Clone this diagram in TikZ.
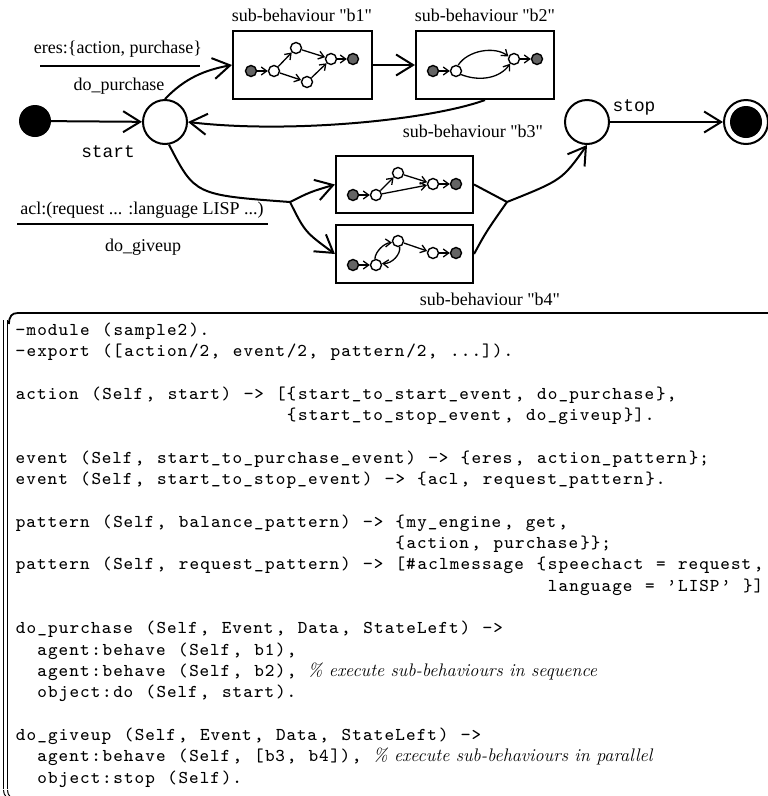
\documentclass[tikz,border=0pt]{standalone}
\usepackage{fontspec}
\usepackage{listings}
\usetikzlibrary{arrows.meta}
\newfontfamily\timesf{Liberation Serif}
\newfontfamily\courf{Liberation Mono}
\newfontfamily\codefont{lmmono8-regular.otf}
\definecolor{mgray}{RGB}{100,100,100}
\newsavebox\codebox
\newcommand\cmtx[1]{{\fontsize{18.2}{21.33}\selectfont\rmfamily\itshape #1}}
\lstset{basicstyle=\fontsize{18.1}{21.33}\selectfont\codefont,
  columns=fixed, basewidth=10.86pt, escapechar=`,
  literate={'}{{\textquoteright}}1,
  aboveskip=0pt, belowskip=0pt, xleftmargin=0pt, showstringspaces=false}
\begin{document}
\global\setbox\codebox\vbox{\hsize=760pt\linewidth=760pt\parindent=0pt
\begin{lstlisting}
-module (sample2).
-export ([action/2, event/2, pattern/2, ...]).

action (Self, start) -> [{start_to_start_event, do_purchase},
                         {start_to_stop_event, do_giveup}].

event (Self, start_to_purchase_event) -> {eres, action_pattern};
event (Self, start_to_stop_event) -> {acl, request_pattern}.

pattern (Self, balance_pattern) -> {my_engine, get,
                                   {action, purchase}};
pattern (Self, request_pattern) -> [#aclmessage {speechact = request,
                                                 language = 'LISP' }]

do_purchase (Self, Event, Data, StateLeft) ->
  agent:behave (Self, b1),
  agent:behave (Self, b2), `\cmtx{\% execute sub-behaviours in sequence}`
  object:do (Self, start).

do_giveup (Self, Event, Data, StateLeft) ->
  agent:behave (Self, [b3, b4]), `\cmtx{\% execute sub-behaviours in parallel}`
  object:stop (Self).
\end{lstlisting}
}%
\begin{tikzpicture}[x=1pt,y=-1pt,
  arrw/.style={line width=2pt, -{Straight Barb[length=17pt,width=21pt]}},
  plainl/.style={line width=2pt},
  stc/.style={circle, draw, line width=2pt, minimum size=44pt, inner sep=0pt},
  bxs/.style={draw, line width=2.1pt, inner sep=0pt},
  mwhite/.style={circle, draw, line width=1.4pt, fill=white, minimum size=11pt, inner sep=0pt},
  mgrey/.style={mwhite, fill=mgray},
  marr/.style={line width=1.3pt, -{Straight Barb[length=5.5pt,width=8pt]}},
  tlab/.style={font=\timesf\fontsize{18}{21}\selectfont, inner sep=0pt},
  tmono/.style={font=\courf\fontsize{17.8}{21}\selectfont, inner sep=0pt},
  sepbar/.style={line width=1.7pt}]
\useasboundingbox (0,0) rectangle (768,796);
% states
\node[circle, fill=black, minimum size=32pt, inner sep=0pt] (init) at (35,121) {};
\node[stc] (start) at (165,122) {};
\node[stc] (stop) at (587,122) {};
\node[stc] (final) at (746,122) {};
\node[circle, fill=black, minimum size=32pt, inner sep=0pt] (finalin) at (746,122) {};
% boxes
\node[bxs, minimum width=139pt, minimum height=68pt] (b1) at (302.5,65) {};
\node[bxs, minimum width=138pt, minimum height=68pt] (b2) at (485,65) {};
\node[bxs, minimum width=137pt, minimum height=57pt] (b3) at (404.5,184.5) {};
\node[bxs, minimum width=137pt, minimum height=58pt] (b4) at (404.5,254) {};
% box labels
\node[tlab] (lb1) at (302,15) {sub-behaviour "b1"};
\node[tlab] (lb2) at (485,15) {sub-behaviour "b2"};
\node[tlab] (lb3) at (473,131) {sub-behaviour "b3"};
\node[tlab] (lb4) at (490,299) {sub-behaviour "b4"};
% transition labels
\node[tlab] (ev1) at (118,49) {eres:\{action, purchase\}};
\node[tlab] (ac1) at (119,86) {do\_purchase};
\draw[sepbar] (40,66) -- (200,66);
\node[tlab] (ev2) at (142,210) {acl:(request ... :language LISP ...)};
\node[tlab] (ac2) at (143,247) {do\_giveup};
\draw[sepbar] (17,224) -- (268,224);
\node[tmono] (lstart) at (108,152) {start};
\node[tmono] (lstop) at (634,107) {stop};
% coordinates
\coordinate (fork) at (290,202);
\coordinate (join) at (507,202);
% main transitions
\draw[arrw] (init) -- (start);
\draw[arrw] (start.north) .. controls (185,78) and (205,70) .. (b1.west);
\draw[arrw] (b1.east) -- (b2.west);
\draw[arrw] (b2.south) .. controls (430,120) and (290,134) .. (start.east);
\draw[plainl] (start.-80) .. controls (195,195) .. (fork);
\draw[arrw] (fork) .. controls (310,192) .. (b3.west);
\draw[arrw] (fork) .. controls (305,232) .. (b4.west);
\draw[plainl] (b3.east) -- (join);
\draw[plainl] (b4.east) .. controls (486,232) .. (join);
\draw[arrw] (join) .. controls (562,180) .. (stop.south);
\draw[arrw] (stop.east) -- (final.west);
% mini graph b1
\node[mgrey] (s1) at (251,71) {};
\node[mwhite] (a1) at (274,71) {};
\node[mwhite] (u1) at (296,48) {};
\node[mwhite] (l1) at (307,82) {};
\node[mwhite] (d1) at (331,59) {};
\node[mgrey] (e1) at (353,59) {};
\draw[marr] (s1) -- (a1);
\draw[marr] (a1) -- (u1);
\draw[marr] (a1) -- (l1);
\draw[marr] (u1) -- (d1);
\draw[marr] (l1) -- (d1);
\draw[marr] (d1) -- (e1);
% mini graph b2
\node[mgrey] (s2) at (433,71) {};
\node[mwhite] (a2) at (456,71) {};
\node[mwhite] (d2) at (514,59) {};
\node[mgrey] (e2) at (537,59) {};
\draw[marr] (s2) -- (a2);
\draw[marr] (a2.70) .. controls (468,50) and (495,46) .. (d2.155);
\draw[marr] (a2.-35) .. controls (480,82) and (500,78) .. (d2.-130);
\draw[marr] (d2) -- (e2);
% mini graph b3
\node[mgrey] (s3) at (353,195) {};
\node[mwhite] (a3) at (376,195) {};
\node[mwhite] (u3) at (398,173) {};
\node[mwhite] (d3) at (433,184) {};
\node[mgrey] (e3) at (456,184) {};
\draw[marr] (s3) -- (a3);
\draw[marr] (a3) -- (u3);
\draw[marr] (u3) -- (d3);
\draw[marr] (a3) -- (d3);
\draw[marr] (d3) -- (e3);
% mini graph b4
\node[mgrey] (s4) at (353,265) {};
\node[mwhite] (a4) at (376,265) {};
\node[mwhite] (u4) at (398,241) {};
\node[mwhite] (d4) at (433,253) {};
\node[mgrey] (e4) at (456,253) {};
\draw[marr] (s4) -- (a4);
\draw[marr] (a4.100) .. controls (375,252) and (384,243) .. (u4.195);
\draw[marr] (u4.-75) .. controls (401,254) and (392,264) .. (a4.15);
\draw[marr] (u4) -- (d4);
\draw[marr] (d4) -- (e4);
% code frame
\draw[line width=1.8pt] (9,324) .. controls (9,316) and (12,313) .. (18,313) -- (770,313);
\draw[line width=1.3pt] (3.5,320) -- (3.5,789);
\draw[line width=1.3pt] (7.5,320) -- (7.5,789);
\draw[line width=1pt] (3.5,790) .. controls (3.5,793) and (4.5,795) .. (6,796.5);
\draw[line width=1pt] (7.5,790) .. controls (7.5,793) and (8.5,795) .. (10,796.5);
\node[anchor=north west, inner sep=0pt] (code) at (14.5,320) {\usebox\codebox};
\end{tikzpicture}
\end{document}
